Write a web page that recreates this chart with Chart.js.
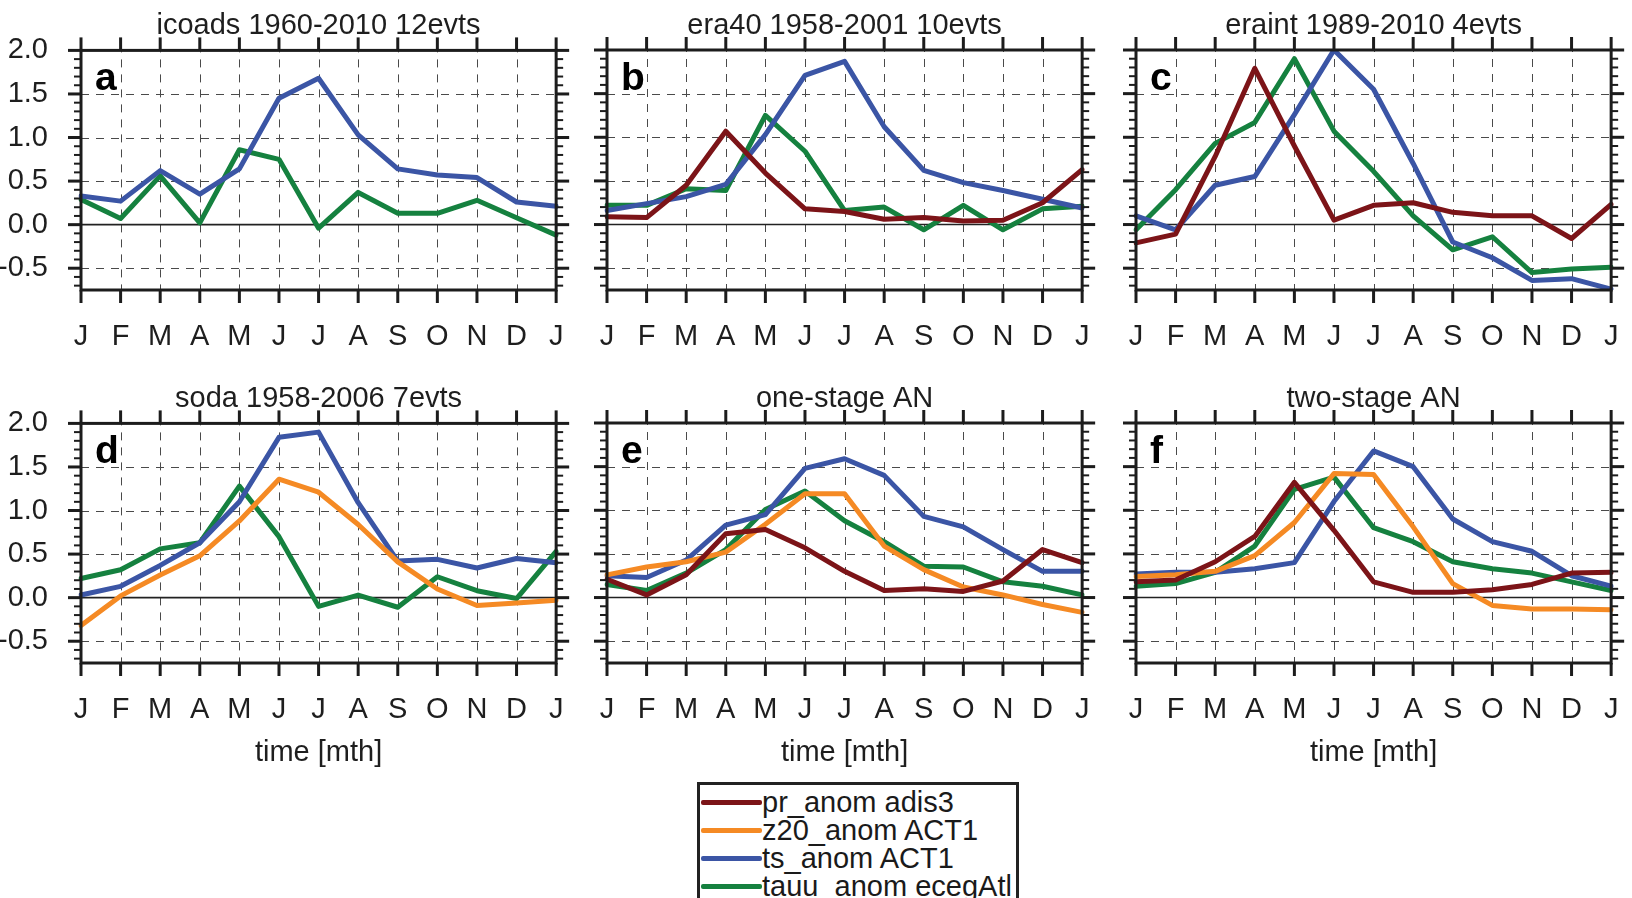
<!DOCTYPE html>
<html>
<head>
<meta charset="utf-8">
<script src="https://cdn.jsdelivr.net/npm/chart.js@4.4.1/dist/chart.umd.min.js"></script>
<style>
  html, body { margin:0; padding:0; background:#fff; width:1632px; height:898px; overflow:hidden; position:relative; }
  canvas.panel { position:absolute; }
  #legend { position:absolute; left:697px; top:782px; width:316px; height:140px; border:3px solid #222; box-sizing:content-box;
            font-family:"Liberation Sans", Arial, sans-serif; font-size:29px; color:#1a1a1a; padding-top:3px; }
  #legend .item { height:28px; line-height:28px; white-space:nowrap; display:flex; align-items:center; }
  #legend .swatch { display:inline-block; width:61px; height:0; border-top:5px solid; border-radius:2px; margin-left:1px; margin-top:1px; }
  #legend .lbl { display:inline-block; }
</style>
</head>
<body>
<div id="legend"></div>
<script>
// ---------- categories / ticks ----------
const MONTHS = ['J','F','M','A','M','J','J','A','S','O','N','D','J'];
const Y_TICKS = [-0.5, 0, 0.5, 1.0, 1.5, 2.0];
const Y_MIN = -0.75, Y_MAX = 2.0;
const Y_MINOR_STEP = 0.1;

// ---------- series names & colours ----------
const SERIES_NAMES  = ['pr_anom adis3', 'z20_anom ACT1', 'ts_anom ACT1', 'tauu_anom ecegAtl'];
const SERIES_COLORS = ['#7c1418', '#f58a24', '#3b55a5', '#15813f'];

// ---------- panel titles ----------
const TITLES  = ['icoads 1960-2010 12evts', 'era40 1958-2001 10evts', 'eraint 1989-2010 4evts',
                 'soda 1958-2006 7evts', 'one-stage AN', 'two-stage AN'];
const LETTERS = ['a','b','c','d','e','f'];
const X_TITLE = 'time [mth]';

// ---------- data (J..D, J) ----------
// a  icoads
const icoads_ts   = [0.33, 0.27, 0.62, 0.35, 0.64, 1.45, 1.68, 1.03, 0.64, 0.57, 0.54, 0.26, 0.21];
const icoads_tauu = [0.29, 0.07, 0.56, 0.02, 0.86, 0.75, -0.04, 0.37, 0.13, 0.13, 0.28, 0.08, -0.12];
// b  era40
const era40_pr   = [0.09, 0.08, 0.45, 1.07, 0.59, 0.18, 0.15, 0.06, 0.08, 0.04, 0.05, 0.25, 0.63];
const era40_ts   = [0.16, 0.24, 0.32, 0.46, 1.03, 1.71, 1.87, 1.12, 0.62, 0.48, 0.39, 0.29, 0.19];
const era40_tauu = [0.22, 0.22, 0.41, 0.39, 1.25, 0.84, 0.16, 0.20, -0.06, 0.22, -0.06, 0.18, 0.21];
// c  eraint
const eraint_pr   = [-0.21, -0.11, 0.78, 1.79, 0.90, 0.05, 0.22, 0.25, 0.14, 0.10, 0.10, -0.16, 0.23];
const eraint_ts   = [0.10, -0.06, 0.45, 0.55, 1.26, 2.00, 1.55, 0.70, -0.20, -0.38, -0.64, -0.62, -0.74];
const eraint_tauu = [-0.06, 0.40, 0.93, 1.17, 1.90, 1.07, 0.61, 0.10, -0.29, -0.14, -0.55, -0.51, -0.49];
// d  soda
const soda_z20  = [-0.32, 0.02, 0.26, 0.48, 0.88, 1.36, 1.21, 0.84, 0.41, 0.10, -0.09, -0.06, -0.03];
const soda_ts   = [0.03, 0.13, 0.37, 0.63, 1.10, 1.84, 1.90, 1.09, 0.42, 0.44, 0.34, 0.45, 0.40];
const soda_tauu = [0.22, 0.32, 0.56, 0.63, 1.28, 0.70, -0.10, 0.03, -0.11, 0.24, 0.08, -0.01, 0.53];
// e  one-stage AN
const one_pr   = [0.21, 0.03, 0.26, 0.73, 0.78, 0.57, 0.30, 0.08, 0.10, 0.07, 0.19, 0.55, 0.40];
const one_z20  = [0.26, 0.35, 0.41, 0.52, 0.84, 1.19, 1.19, 0.59, 0.32, 0.12, 0.03, -0.08, -0.17];
const one_ts   = [0.25, 0.23, 0.43, 0.83, 0.95, 1.48, 1.59, 1.40, 0.93, 0.81, 0.55, 0.30, 0.30];
const one_tauu = [0.15, 0.08, 0.28, 0.55, 1.01, 1.22, 0.88, 0.64, 0.36, 0.35, 0.18, 0.13, 0.03];
// f  two-stage AN
const two_pr   = [0.18, 0.20, 0.41, 0.70, 1.32, 0.77, 0.18, 0.06, 0.06, 0.09, 0.15, 0.28, 0.29];
const two_z20  = [0.24, 0.26, 0.30, 0.48, 0.86, 1.42, 1.41, 0.81, 0.16, -0.09, -0.13, -0.13, -0.14];
const two_ts   = [0.27, 0.29, 0.29, 0.33, 0.40, 1.10, 1.68, 1.50, 0.90, 0.64, 0.53, 0.25, 0.13];
const two_tauu = [0.13, 0.16, 0.29, 0.59, 1.24, 1.38, 0.80, 0.64, 0.41, 0.33, 0.28, 0.18, 0.08];

// series per panel, in order [pr, z20, ts, tauu]; null = absent
const PANEL_SERIES = [
  [null,      null,     icoads_ts, icoads_tauu],
  [era40_pr,  null,     era40_ts,  era40_tauu],
  [eraint_pr, null,     eraint_ts, eraint_tauu],
  [null,      soda_z20, soda_ts,   soda_tauu],
  [one_pr,    one_z20,  one_ts,    one_tauu],
  [two_pr,    two_z20,  two_ts,    two_tauu]
];

// ---------- layout ----------
const FONT = '"Liberation Sans", Arial, sans-serif';
const TXT = '#1e1e1e';
const AXIS = '#1c1c1c';
const PLOT_W = 482;
const Y_AXIS_W = 81;
const RIGHT_PAD = 30;
const COL_X = [0, 526, 1055];     // canvas left edges
const ROW_Y = [0, 373];           // canvas top edges
const ROW_H = [360, 400];
const ROW_XH = [70, 110];
const FS = 29;                    // text size

const framePlugin = {
  id: 'nclFrame',
  beforeDatasetsDraw(chart) {
    const {ctx, chartArea: {left, right, top, bottom}, scales: {x, y}} = chart;
    ctx.save();
    ctx.strokeStyle = '#4a4a4a';
    ctx.lineWidth = 1;
    ctx.setLineDash([8, 7]);
    for (let i = 1; i < MONTHS.length - 1; i++) {
      const px = Math.round(x.getPixelForValue(i)) + 0.5;
      ctx.beginPath(); ctx.lineDashOffset = -9; ctx.moveTo(px, top); ctx.lineTo(px, bottom); ctx.stroke();
    }
    ctx.lineDashOffset = 0;
    Y_TICKS.forEach(v => {
      if (v === 0 || v === Y_MAX) return;
      const py = Math.round(y.getPixelForValue(v)) + 0.5;
      ctx.beginPath(); ctx.moveTo(left, py); ctx.lineTo(right, py); ctx.stroke();
    });
    ctx.setLineDash([]);
    ctx.strokeStyle = '#222';
    ctx.lineWidth = 1.6;
    const pz = y.getPixelForValue(0);
    ctx.beginPath(); ctx.moveTo(left, pz); ctx.lineTo(right, pz); ctx.stroke();
    ctx.restore();
  },
  afterDatasetsDraw(chart, args, opts) {
    const {ctx, chartArea: {left, right, top, bottom}, scales: {x, y}} = chart;
    ctx.save();
    ctx.strokeStyle = AXIS;
    ctx.lineCap = 'butt';
    ctx.lineWidth = 3;
    for (let i = 0; i < MONTHS.length; i++) {
      const px = x.getPixelForValue(i);
      ctx.beginPath(); ctx.moveTo(px, top); ctx.lineTo(px, top - 13); ctx.stroke();
      ctx.beginPath(); ctx.moveTo(px, bottom); ctx.lineTo(px, bottom + 13); ctx.stroke();
    }
    Y_TICKS.forEach(v => {
      const py = y.getPixelForValue(v);
      ctx.beginPath(); ctx.moveTo(left - 13, py); ctx.lineTo(left, py); ctx.stroke();
      ctx.beginPath(); ctx.moveTo(right, py); ctx.lineTo(right + 13, py); ctx.stroke();
    });
    ctx.lineWidth = 2;
    const n0 = Math.ceil(Y_MIN / Y_MINOR_STEP + 1e-6), n1 = Math.floor(Y_MAX / Y_MINOR_STEP - 1e-6);
    for (let k = n0; k <= n1; k++) {
      if (k % 5 === 0) continue;
      const py = y.getPixelForValue(k * Y_MINOR_STEP);
      ctx.beginPath(); ctx.moveTo(left - 7, py); ctx.lineTo(left, py); ctx.stroke();
      ctx.beginPath(); ctx.moveTo(right, py); ctx.lineTo(right + 7, py); ctx.stroke();
    }
    ctx.lineWidth = 3;
    ctx.strokeRect(left, top, right - left, bottom - top);
    ctx.fillStyle = '#000';
    ctx.font = 'bold 39px ' + FONT;
    ctx.textBaseline = 'alphabetic';
    ctx.textAlign = 'left';
    ctx.fillText(opts.letter, left + 14, top + 40);
    ctx.restore();
  }
};

function makePanel(idx) {
  const row = Math.floor(idx / 3), col = idx % 3;
  const canvas = document.createElement('canvas');
  canvas.className = 'panel';
  const W = Y_AXIS_W + PLOT_W + RIGHT_PAD, H = ROW_H[row];
  canvas.width = W; canvas.height = H;
  canvas.style.left = COL_X[col] + 'px';
  canvas.style.top = ROW_Y[row] + 'px';
  canvas.style.width = W + 'px'; canvas.style.height = H + 'px';
  document.body.appendChild(canvas);

  const datasets = [];
  PANEL_SERIES[idx].forEach((arr, s) => {
    if (!arr) return;
    datasets.push({
      label: SERIES_NAMES[s], data: arr, borderColor: SERIES_COLORS[s], backgroundColor: SERIES_COLORS[s],
      borderWidth: 5, pointRadius: 0, tension: 0, fill: false,
      borderJoinStyle: 'round', borderCapStyle: 'round'
    });
  });

  const tickFont = {family: FONT, size: FS, weight: 'normal', lineHeight: 1.2};
  const half = FS * 1.2 / 2;
  new Chart(canvas, {
    type: 'line',
    data: {labels: MONTHS, datasets},
    options: {
      responsive: false, animation: false, devicePixelRatio: 1,
      layout: {padding: {left: 0, right: RIGHT_PAD, top: 0, bottom: 0}},
      plugins: {
        legend: {display: false}, tooltip: {enabled: false},
        title: {display: true, text: TITLES[idx], color: TXT, fullSize: false,
                font: {family: FONT, size: FS, weight: 'normal', lineHeight: 1.2},
                padding: {top: 26 - half, bottom: 50 - (26 - half) - 2 * half}},
        nclFrame: {letter: LETTERS[idx]}
      },
      scales: {
        x: {
          type: 'category', offset: false,
          grid: {display: false, drawTicks: false}, border: {display: false},
          ticks: {maxRotation: 0, minRotation: 0, autoSkip: false, padding: 337 - 290 - half, color: TXT, font: tickFont},
          title: {display: row === 1, text: X_TITLE, color: TXT, font: tickFont, padding: {top: 0, bottom: 400 - 380 - half}},
          afterFit: s => { s.height = ROW_XH[row]; }
        },
        y: {
          min: Y_MIN, max: Y_MAX,
          afterBuildTicks: s => { s.ticks = Y_TICKS.map(v => ({value: v})); },
          grid: {display: false, drawTicks: false}, border: {display: false},
          ticks: {display: col === 0, padding: 33, color: TXT, font: tickFont, callback: v => Number(v).toFixed(1)},
          afterFit: s => { s.width = Y_AXIS_W; }
        }
      }
    },
    plugins: [framePlugin]
  });
}

for (let i = 0; i < 6; i++) makePanel(i);

const leg = document.getElementById('legend');
SERIES_NAMES.forEach((name, s) => {
  const item = document.createElement('div'); item.className = 'item';
  const sw = document.createElement('span'); sw.className = 'swatch'; sw.style.borderColor = SERIES_COLORS[s];
  const lb = document.createElement('span'); lb.className = 'lbl'; lb.textContent = name;
  item.appendChild(sw); item.appendChild(lb); leg.appendChild(item);
});
</script>
</body>
</html>
